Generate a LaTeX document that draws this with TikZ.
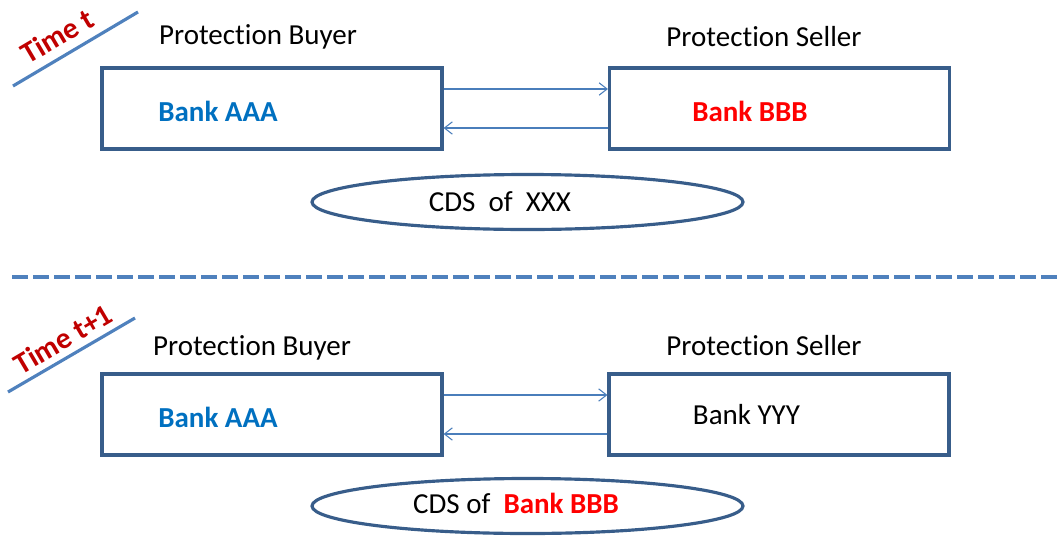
\documentclass[tikz,border=0pt]{standalone}
\usepackage{fontspec}
\setmainfont{Carlito}[Ligatures=CommonOff]
\usetikzlibrary{arrows.meta,shapes.geometric}

\definecolor{boxline}{HTML}{385D8A}
\definecolor{flowline}{HTML}{4A7EBB}
\definecolor{accent}{HTML}{4F81BD}
\definecolor{timered}{HTML}{C00000}
\definecolor{aaablue}{HTML}{0070C0}
\definecolor{bbbred}{HTML}{FF0000}

\tikzset{
	party/.style={draw=boxline, line width=1.8pt, minimum width=6.8cm, minimum height=1.62cm, inner sep=0pt},
	deal/.style={ellipse, draw=boxline, line width=1.8pt, minimum width=8.62cm, minimum height=1.1cm, inner sep=0pt},
	flow/.style={draw=flowline, line width=0.6pt, -{Straight Barb[length=4.5pt,width=7pt]}},
	role/.style={font=\fontsize{16.5}{20}\selectfont},
	bank/.style={font=\fontsize{16.5}{20}\selectfont\bfseries},
	stamp/.style={font=\fontsize{17}{20}\selectfont\bfseries, text=timered, rotate=30.5},
	stampline/.style={draw=accent, line width=1.8pt},
	divider/.style={draw=accent, line width=2.6pt, dash pattern=on 0.32cm off 0.1cm},
}

\begin{document}
\begin{tikzpicture}
	\useasboundingbox (0,0) rectangle (21.24,-10.76);
	
	% time t
	\coordinate (stampA1) at (0.26,-1.72); \coordinate (stampA2) at (2.76,-0.24);
	\draw[stampline] (stampA1) -- (stampA2);
	\node[stamp] (timeA) at (1.14,-0.72) {Time t};
	
	\node[role] (roleBuyA) at (5.16,-0.74) {Protection Buyer};
	\node[role] (roleSellA) at (15.28,-0.74) {Protection Seller};
	
	\node[party] (buyerA) at (5.44,-2.17) {};
	\node[party] (sellerA) at (15.59,-2.17) {};
	\node[bank, text=aaablue] (nameBuyA) at (4.36,-2.22) {Bank AAA};
	\node[bank, text=bbbred] (nameSellA) at (15.0,-2.22) {Bank BBB};
	
	\draw[flow] ([yshift=0.39cm]buyerA.east) -- ([yshift=0.39cm]sellerA.west);
	\draw[flow] ([yshift=-0.39cm]sellerA.west) -- ([yshift=-0.39cm]buyerA.east);
	
	\node[deal] (dealA) at (10.55,-4.04) {};
	\node[role] (dealTextA) at (10.0,-4.04) {CDS\ \ of\ \ XXX};
	
	% divider
	\coordinate (cutL) at (0.24,-5.54); \coordinate (cutR) at (21.24,-5.54);
	\draw[divider] (cutL) -- (cutR);
	
	% time t+1
	\coordinate (stampB1) at (0.16,-7.84); \coordinate (stampB2) at (2.70,-6.36);
	\draw[stampline] (stampB1) -- (stampB2);
	\node[stamp] (timeB) at (1.26,-6.78) {Time t+1};
	
	\node[role] (roleBuyB) at (5.04,-6.96) {Protection Buyer};
	\node[role] (roleSellB) at (15.28,-6.92) {Protection Seller};
	
	\node[party] (buyerB) at (5.44,-8.29) {};
	\node[party] (sellerB) at (15.58,-8.29) {};
	\node[bank, text=aaablue] (nameBuyB) at (4.36,-8.34) {Bank AAA};
	\node[role] (nameSellB) at (14.93,-8.30) {Bank YYY};
	
	\draw[flow] ([yshift=0.39cm]buyerB.east) -- ([yshift=0.39cm]sellerB.west);
	\draw[flow] ([yshift=-0.39cm]sellerB.west) -- ([yshift=-0.39cm]buyerB.east);
	
	\node[deal] (dealB) at (10.55,-10.12) {};
	\node[role] (dealTextB) at (10.32,-10.06) {CDS of\ \ \textcolor{bbbred}{\bfseries Bank BBB}};
\end{tikzpicture}
\end{document}
